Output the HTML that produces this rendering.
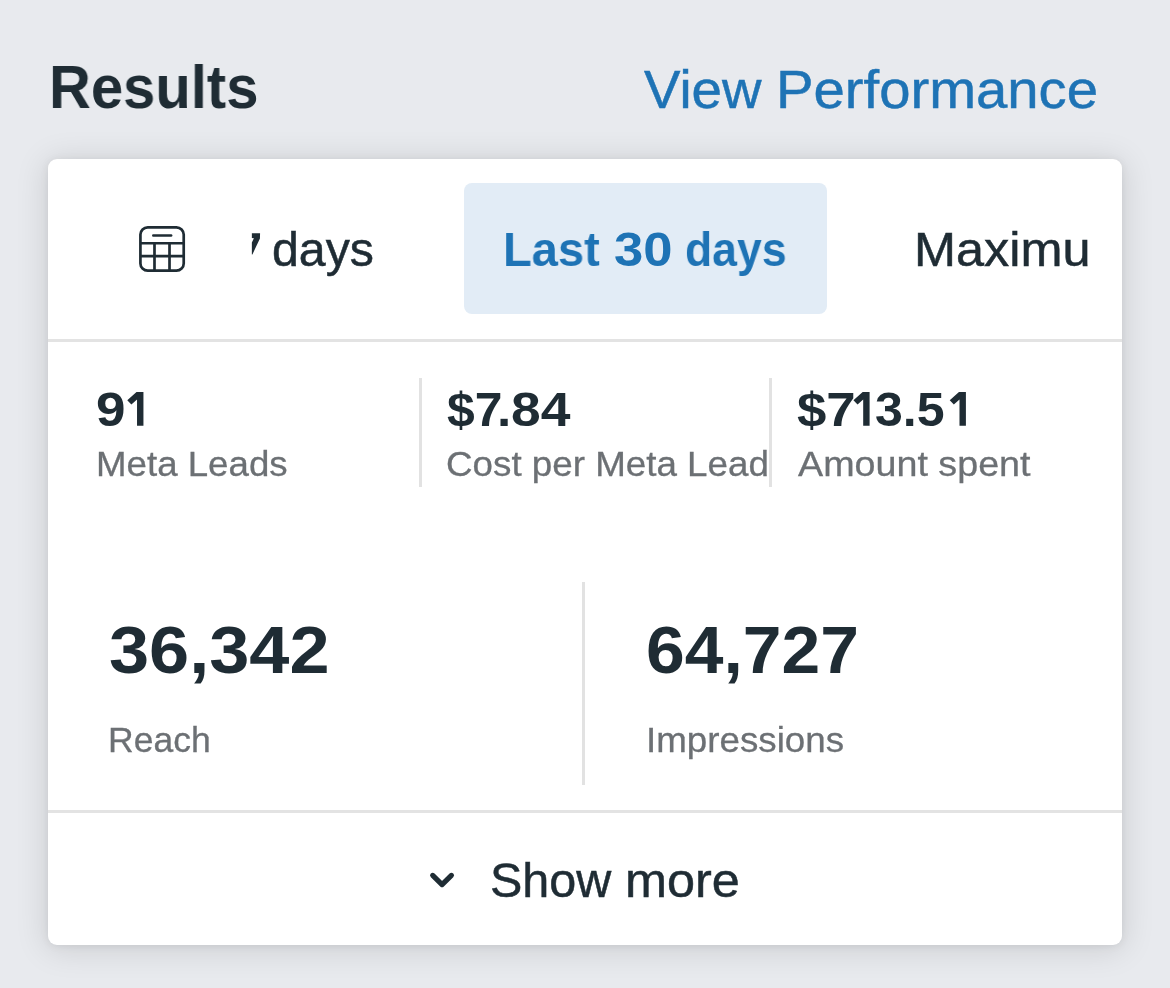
<!DOCTYPE html>
<html lang="en">
<head>
<meta charset="utf-8">
<title>Results</title>
<style>
html,body{margin:0;padding:0}
body{width:1170px;height:988px;overflow:hidden;background:#e8eaee;position:relative;font-family:"Liberation Sans",sans-serif}
.card{position:absolute;left:48px;top:159px;width:1074px;height:786px;background:#fff;border-radius:9px;box-shadow:0 3px 32px 2px rgba(0,0,0,.12),0 1px 8px rgba(0,0,0,.07)}
.sel{position:absolute;left:464px;top:183px;width:363px;height:131px;border-radius:8px;background:#e2ecf6}
.hl{position:absolute;left:48px;width:1074px;height:3px;background:#e3e3e3}
.vl{position:absolute;width:3px;background:#e2e2e2}
.t{position:absolute;white-space:pre;line-height:1;transform-origin:0 0;will-change:transform;font-family:"Liberation Sans",sans-serif}
.h{color:transparent}
svg{position:absolute;overflow:visible}
</style>
</head>
<body>
<div class="card"></div>
<div class="sel"></div>
<div class="hl" style="top:339px"></div>
<div class="hl" style="top:810px"></div>
<div class="vl" style="left:419px;top:378px;height:109px"></div>
<div class="vl" style="left:769px;top:378px;height:109px"></div>
<div class="vl" style="left:582px;top:582px;height:203px"></div>

<svg style="left:137px;top:224px" width="50" height="50" viewBox="0 0 50 50" fill="none" stroke="#1f2c34" stroke-width="2.7">
<rect x="3.42" y="3.29" width="43.3" height="43.4" rx="7.3" ry="7.3"/>
<line x1="16.3" y1="11.46" x2="34.1" y2="11.46" stroke-linecap="round" stroke-width="2.6"/>
<line x1="3.42" y1="19.23" x2="46.72" y2="19.23"/>
<line x1="3.42" y1="32.19" x2="46.72" y2="32.19"/>
<line x1="17.49" y1="19.23" x2="17.49" y2="46.69"/>
<line x1="32.51" y1="19.23" x2="32.51" y2="46.69"/>
</svg>

<svg style="left:250px;top:230px" width="14" height="28" viewBox="250 230 14 28">
<polygon fill="#1f2c34" points="251.86,233.28 260.07,233.28 259.93,238.41 252.41,254.48 251.86,254.48 251.86,242.51 253.91,238.27 251.86,238.07"/>
</svg>

<svg style="left:426px;top:868px" width="32" height="24" viewBox="426 868 32 24" fill="none" stroke="#1f2c34" stroke-width="5.2" stroke-linecap="round" stroke-linejoin="round">
<polyline points="432.7,875.4 442.05,884.6 451.4,875.4"/>
</svg>

<span class="t" style="left:48.67px;top:56.50px;font-size:60.5px;font-weight:700;color:#1f2c34;transform:scaleX(0.9580)">Results</span>
<span class="t" style="left:644.10px;top:62.70px;font-size:54.5px;font-weight:400;color:#1e73b5;transform:scaleX(1.0026);-webkit-text-stroke:0.5px #1e73b5">View</span>
<span class="t" style="left:775.67px;top:62.70px;font-size:54.5px;font-weight:400;color:#1e73b5;transform:scaleX(1.0320);-webkit-text-stroke:0.5px #1e73b5">Performance</span>
<span class="t" style="left:272.27px;top:226.40px;font-size:47.5px;font-weight:400;color:#1f2c34;transform:scaleX(1.0165);-webkit-text-stroke:0.5px #1f2c34">days</span>
<span class="t" style="left:503.46px;top:226.40px;font-size:48.0px;font-weight:700;color:#1e73b5;transform:scaleX(0.9800)">Last</span>
<span class="t" style="left:613.50px;top:226.40px;font-size:48.0px;font-weight:700;color:#1e73b5;transform:scaleX(1.0961)">30</span>
<span class="t" style="left:684.84px;top:226.40px;font-size:48.0px;font-weight:700;color:#1e73b5;transform:scaleX(0.9283)">days</span>
<span class="t" style="left:913.75px;top:226.30px;font-size:47.5px;font-weight:400;color:#1f2c34;transform:scaleX(1.0616);-webkit-text-stroke:0.5px #1f2c34">Maximu</span>
<span class="t" style="left:95.96px;top:384.50px;font-size:48.5px;font-weight:700;color:#1f2c34;transform:scaleX(1.0935)">9<span class="h">1</span></span>
<span class="t" style="left:96.10px;top:446.60px;font-size:35.5px;font-weight:400;color:#6c7074;transform:scaleX(1.0331);-webkit-text-stroke:0.3px #6c7074">Meta Leads</span>
<span class="t" style="left:446.57px;top:384.50px;font-size:48.5px;font-weight:700;color:#1f2c34;transform:scaleX(1.0275)">$7</span>
<span class="t" style="left:497.43px;top:384.50px;font-size:48.5px;font-weight:700;color:#1f2c34;transform:scaleX(1.0571)">.</span>
<span class="t" style="left:511.00px;top:384.50px;font-size:48.5px;font-weight:700;color:#1f2c34;transform:scaleX(1.1019)">84</span>
<span class="t" style="left:445.73px;top:446.60px;font-size:35.5px;font-weight:400;color:#6c7074;transform:scaleX(1.0357);-webkit-text-stroke:0.3px #6c7074">Cost per Meta Lead</span>
<span class="t" style="left:796.71px;top:384.50px;font-size:48.5px;font-weight:700;color:#1f2c34;transform:scaleX(1.0882)">$7<span class="h">1</span></span>
<span class="t" style="left:875.37px;top:384.50px;font-size:48.5px;font-weight:700;color:#1f2c34;transform:scaleX(1.0323)">3.5<span class="h">1</span></span>
<span class="t" style="left:798.00px;top:446.60px;font-size:35.5px;font-weight:400;color:#6c7074;transform:scaleX(1.0616);-webkit-text-stroke:0.3px #6c7074">Amount spent</span>
<span class="t" style="left:108.85px;top:615.60px;font-size:67.0px;font-weight:700;color:#1f2c34;transform:scaleX(1.0760)">36,342</span>
<span class="t" style="left:108.16px;top:721.50px;font-size:35.0px;font-weight:400;color:#6c7074;transform:scaleX(1.0146);-webkit-text-stroke:0.3px #6c7074">Reach</span>
<span class="t" style="left:645.82px;top:615.60px;font-size:67.0px;font-weight:700;color:#1f2c34;transform:scaleX(1.0390)">64,727</span>
<span class="t" style="left:645.55px;top:721.50px;font-size:35.0px;font-weight:400;color:#6c7074;transform:scaleX(1.0497);-webkit-text-stroke:0.3px #6c7074">Impressions</span>
<span class="t" style="left:489.98px;top:856.70px;font-size:48.0px;font-weight:400;color:#1f2c34;transform:scaleX(1.0102);-webkit-text-stroke:0.5px #1f2c34">Show</span>
<span class="t" style="left:624.85px;top:856.70px;font-size:48.0px;font-weight:400;color:#1f2c34;transform:scaleX(1.0500);-webkit-text-stroke:0.5px #1f2c34">more</span>
<svg style="left:0;top:380px" width="1170" height="60" viewBox="0 380 1170 60" fill="#1f2c34"><polygon points="136.51,392.10 143.44,392.10 143.44,425.75 137.03,425.75 137.03,399.38 131.38,404.51 127.28,400.31"/><polygon points="862.67,392.10 869.60,392.10 869.60,425.75 863.19,425.75 863.19,399.38 857.54,404.51 853.44,400.31"/><polygon points="958.97,392.10 965.90,392.10 965.90,425.75 959.49,425.75 959.49,399.38 953.84,404.51 949.74,400.31"/></svg>
</body>
</html>
